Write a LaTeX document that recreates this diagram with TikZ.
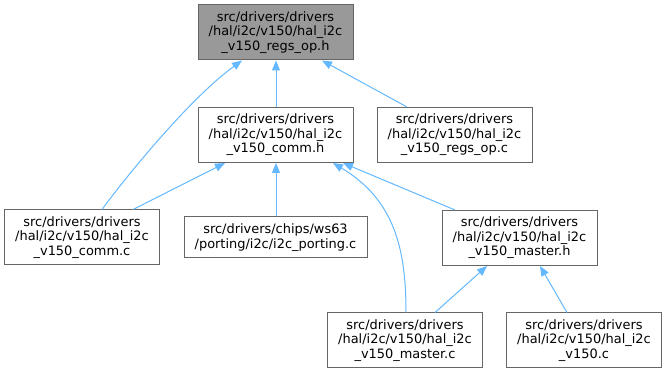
\documentclass[tikz,border=0pt]{standalone}
\usepackage{fontspec}
\setmainfont{DejaVu Sans}
\usepackage{tikz}
\usetikzlibrary{arrows.meta,positioning,calc}
\definecolor{GraphGrey}{HTML}{666666}
\definecolor{GraphFill}{HTML}{999999}
\definecolor{GraphBlue}{HTML}{63B8FF}
\tikzset{
    % Base file node
    filenode/.style={
        draw=GraphGrey,
        fill=white,
        line width=0.75pt,
        minimum height=41.25pt,
        minimum width=116.25pt,
        inner sep=0pt,
        align=center,
        font=\fontsize{9.7}{10.8}\selectfont
    },
    % Header being documented
    rootnode/.style={
        filenode,
        fill=GraphFill
    },
    % Include arrow (child -> parent)
    myarrow/.style={
        -{Triangle[length=7.5pt,width=6pt]},
        line width=0.75pt,
        draw=GraphBlue
    }
}

\begin{document}
\begin{tikzpicture}[x=0.75pt, y=-0.75pt]
    \useasboundingbox (0,0) rectangle (667,373);

    \node[rootnode] (regsh) at (275.5,32.5) {src/drivers/drivers\\/hal/i2c/v150/hal\_i2c\\\_v150\_regs\_op.h};
    \node[filenode] (commh) at (275.5,135) {src/drivers/drivers\\/hal/i2c/v150/hal\_i2c\\\_v150\_comm.h};
    \node[filenode] (regsc) at (454.5,135) {src/drivers/drivers\\/hal/i2c/v150/hal\_i2c\\\_v150\_regs\_op.c};
    \node[filenode] (commc) at (82,237.5) {src/drivers/drivers\\/hal/i2c/v150/hal\_i2c\\\_v150\_comm.c};
    \node[filenode, minimum width=137.25pt, minimum height=30.75pt] (porting) at (275.5,237.5) {src/drivers/chips/ws63\\/porting/i2c/i2c\_porting.c};
    \node[filenode] (masterh) at (519.5,238) {src/drivers/drivers\\/hal/i2c/v150/hal\_i2c\\\_v150\_master.h};
    \node[filenode] (masterc) at (405,340.5) {src/drivers/drivers\\/hal/i2c/v150/hal\_i2c\\\_v150\_master.c};
    \node[filenode] (v150c) at (584,340.5) {src/drivers/drivers\\/hal/i2c/v150/hal\_i2c\\\_v150.c};

    % includes of the regs_op header
    \draw[myarrow] ($(commc.north)+(20,0)$) .. controls (125,178) and (190,98) .. ($(regsh.south)+(-33.5,0)$);
    \draw[myarrow] ($(commh.north)+(0.5,0)$) -- ($(regsh.south)+(0.5,0)$);
    \draw[myarrow] ($(regsc.north)+(-47.5,0)$) -- ($(regsh.south)+(46.5,0)$);

    % includes of the comm header
    \draw[myarrow] ($(commc.north)+(51,0)$) -- ($(commh.south)+(-50.5,0)$);
    \draw[myarrow] ($(porting.north)+(0.5,0)$) -- ($(commh.south)+(0.5,0)$);
    \draw[myarrow] ($(masterc.north)+(1,0)$) .. controls (406,250) and (395,200) .. ($(commh.south)+(57.5,0)$);
    \draw[myarrow] ($(masterh.north)+(-64.5,0)$) -- ($(commh.south)+(67.5,0)$);

    % includes of the master header
    \draw[myarrow] ($(masterc.north)+(30,0)$) -- ($(masterh.south)+(-32.5,0)$);
    \draw[myarrow] ($(v150c.north)+(-17,0)$) -- ($(masterh.south)+(20.5,0)$);
\end{tikzpicture}
\end{document}
